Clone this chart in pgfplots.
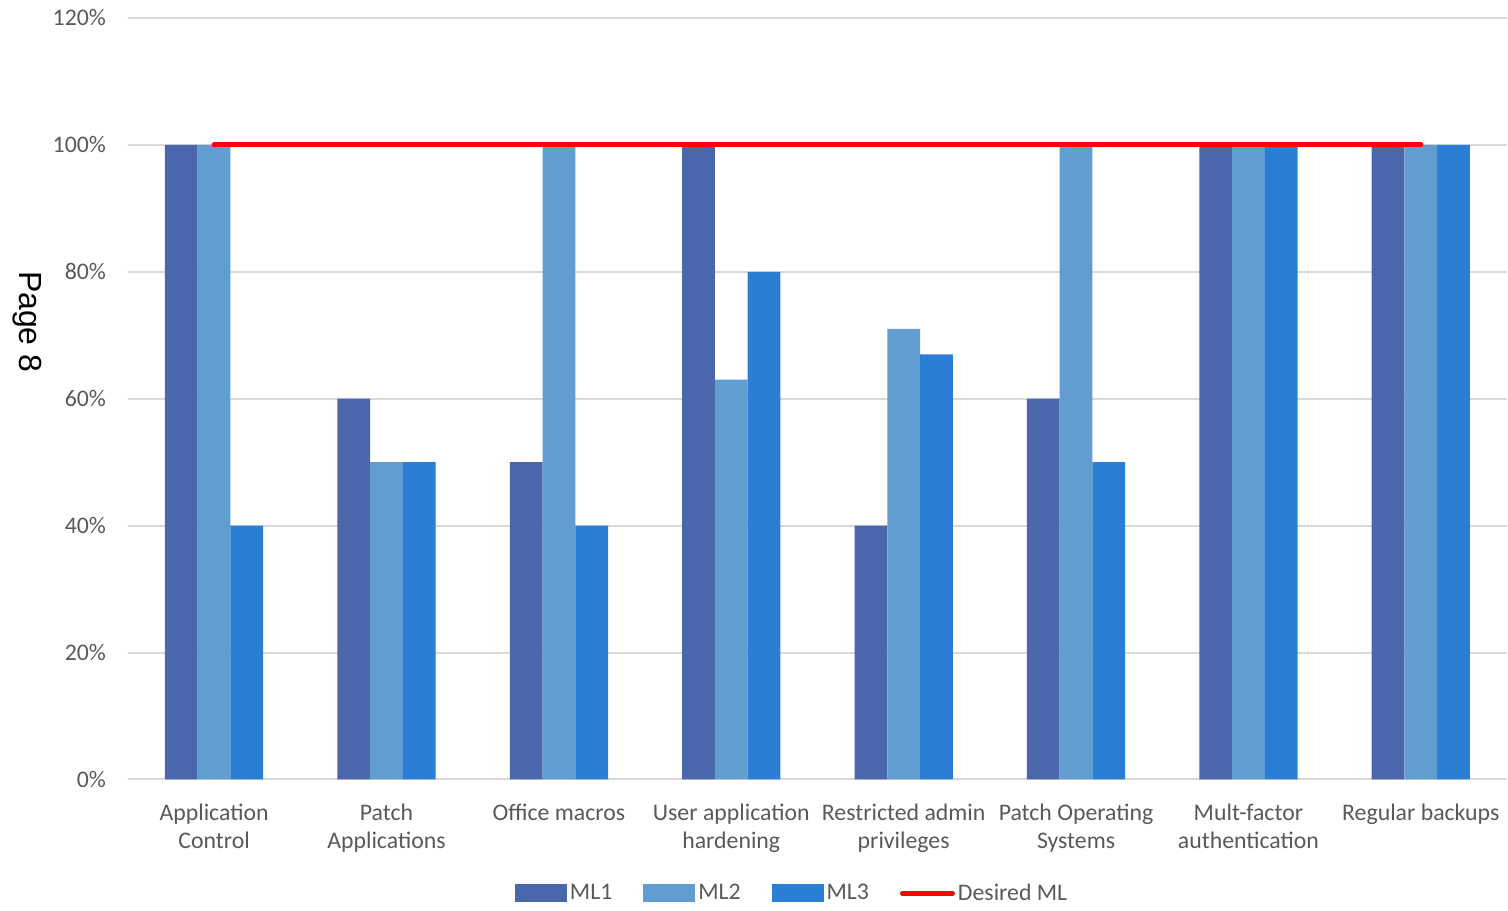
\documentclass[border=0pt]{standalone}
\usepackage{pgfplots}
\pgfplotsset{compat=1.18}
\usepackage{fontspec}
\setmainfont{Carlito}
\newfontfamily\arialf{Liberation Sans}
\definecolor{mlone}{RGB}{74,102,172}
\definecolor{mltwo}{RGB}{98,157,209}
\definecolor{mlthree}{RGB}{42,127,213}
\definecolor{gridc}{RGB}{217,217,217}
\definecolor{txt}{RGB}{89,89,89}
\begin{document}
\begin{tikzpicture}
\begin{axis}[
  name=ax,
  scale only axis,
  width=690pt, height=381pt,
  xmin=-0.5, xmax=7.5,
  ymin=0, ymax=120,
  ytick={0,20,...,120},
  xtick={0,...,7},
  xticklabels={{Application\\Control},{Patch\\Applications},{Office macros\\\strut},{User application\\hardening},{Restricted admin\\privileges},{Patch Operating\\Systems},{Mult-factor\\authentication},{Regular backups\\\strut}},
  xticklabel style={align=center, font=\fontsize{11.9}{14}\selectfont, text=txt, yshift=-4.5pt},
  yticklabel={\pgfmathprintnumber{\tick}\%},
  yticklabel style={font=\fontsize{11.9}{14}\selectfont, text=txt, xshift=-7.5pt},
  /pgf/number format/assume math mode=true,
  ymajorgrids,
  major grid style={draw=gridc, line width=1pt},
  axis line style={draw=none},
  tick style={draw=none},
  ybar=0pt,
  bar width=0.19,
  legend columns=4,
  legend style={at={(0.482,-0.1496)}, anchor=center, draw=none, fill=none,
    font=\fontsize{11.9}{14}\selectfont, text=txt,
    nodes={inner sep=1.5pt},
    /tikz/every even column/.append style={column sep=14pt}},
]
\addplot[fill=mlone, draw=none, bar shift=-0.19,
  legend image code/.code={\fill[mlone] (0pt,-4.5pt) rectangle (26pt,4.5pt);}]
  coordinates {(0,100) (1,60) (2,50) (3,100) (4,40) (5,60) (6,100) (7,100)};
\addlegendentry{ML1}
\addplot[fill=mltwo, draw=none, bar shift=0,
  legend image code/.code={\fill[mltwo] (0pt,-4.5pt) rectangle (26pt,4.5pt);}]
  coordinates {(0,100) (1,50) (2,100) (3,63) (4,71) (5,100) (6,100) (7,100)};
\addlegendentry{ML2}
\addplot[fill=mlthree, draw=none, bar shift=0.19,
  legend image code/.code={\fill[mlthree] (0pt,-4.5pt) rectangle (26pt,4.5pt);}]
  coordinates {(0,40) (1,50) (2,40) (3,80) (4,67) (5,50) (6,100) (7,100)};
\addlegendentry{ML3}
\addplot[sharp plot, draw=red, line width=2.5pt, line cap=round, mark=none,
  legend image code/.code={\draw[red, line width=2.5pt, line cap=round] (1pt,0pt) -- (26pt,0pt);}]
  coordinates {(0,100) (7,100)};
\addlegendentry{Desired ML}
\end{axis}
\node[rotate=-90, font=\arialf\fontsize{16}{19}\selectfont, text=black]
  at ([xshift=-50.5pt,yshift=-152pt]ax.north west) {Page 8};
\path[use as bounding box] ([xshift=-64pt,yshift=-62pt]ax.south west) rectangle ([yshift=9pt]ax.north east);
\end{tikzpicture}
\end{document}
